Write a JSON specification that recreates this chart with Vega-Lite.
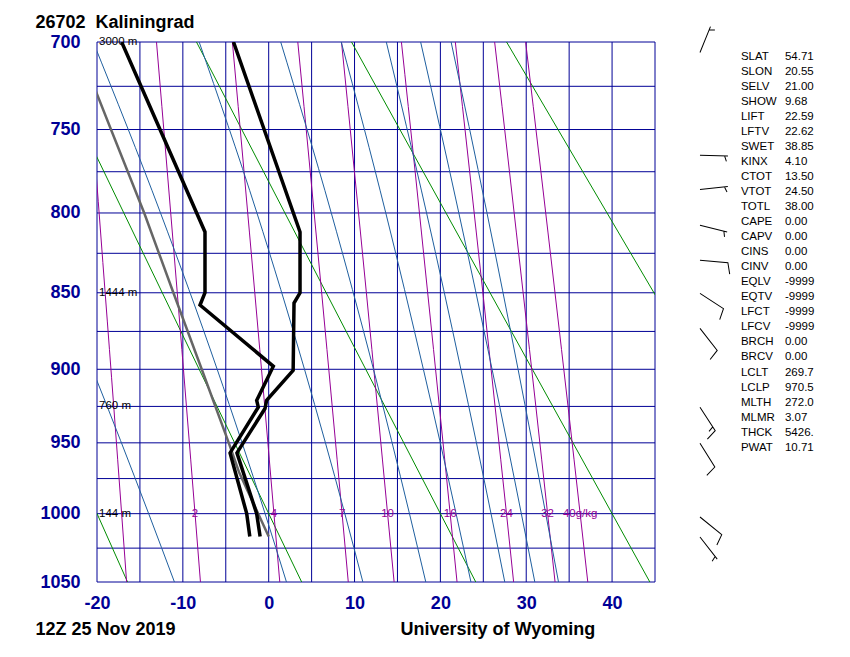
{
  "$schema": "https://vega.github.io/schema/vega-lite/v6.json",
  "width": 558,
  "height": 540,
  "autosize": {"type": "none"},
  "padding": {"left": 97, "top": 42, "right": 195, "bottom": 75},
  "background": "white",
  "config": {"view": {"stroke": null}},
  "datasets": {
    "vgrid": [
      {"t": -20}, {"t": -15}, {"t": -10}, {"t": -5}, {"t": 0}, {"t": 5}, {"t": 10},
      {"t": 15}, {"t": 20}, {"t": 25}, {"t": 30}, {"t": 35}, {"t": 40}, {"t": 45}
    ],
    "hgrid": [
      {"p": 700}, {"p": 725}, {"p": 750}, {"p": 775}, {"p": 800}, {"p": 825}, {"p": 850}, {"p": 875},
      {"p": 900}, {"p": 925}, {"p": 950}, {"p": 975}, {"p": 1000}, {"p": 1025}, {"p": 1050}
    ],
    "dry": [
      {"theta": -20, "p": 700, "t": -44.53}, {"theta": -20, "p": 1050, "t": -16.44},
      {"theta": 0, "p": 700, "t": -26.47}, {"theta": 0, "p": 1050, "t": 3.84},
      {"theta": 20, "p": 700, "t": -8.41}, {"theta": 20, "p": 1050, "t": 24.12},
      {"theta": 40, "p": 700, "t": 9.65}, {"theta": 40, "p": 1050, "t": 44.40},
      {"theta": 60, "p": 700, "t": 27.71}, {"theta": 60, "p": 1050, "t": 64.68}
    ],
    "mixr": [
      {"w": 1, "p": 700, "t": -21.30}, {"w": 1, "p": 775, "t": -20.12}, {"w": 1, "p": 850, "t": -19.05}, {"w": 1, "p": 925, "t": -18.05}, {"w": 1, "p": 1000, "t": -17.13}, {"w": 1, "p": 1050, "t": -16.55},
      {"w": 2, "p": 700, "t": -13.07}, {"w": 2, "p": 775, "t": -11.81}, {"w": 2, "p": 850, "t": -10.65}, {"w": 2, "p": 925, "t": -9.58}, {"w": 2, "p": 1000, "t": -8.58}, {"w": 2, "p": 1050, "t": -7.95},
      {"w": 4, "p": 700, "t": -4.23}, {"w": 4, "p": 775, "t": -2.87}, {"w": 4, "p": 850, "t": -1.62}, {"w": 4, "p": 925, "t": -0.46}, {"w": 4, "p": 1000, "t": 0.61}, {"w": 4, "p": 1050, "t": 1.29},
      {"w": 7, "p": 700, "t": 3.39}, {"w": 7, "p": 775, "t": 4.84}, {"w": 7, "p": 850, "t": 6.17}, {"w": 7, "p": 925, "t": 7.40}, {"w": 7, "p": 1000, "t": 8.55}, {"w": 7, "p": 1050, "t": 9.27},
      {"w": 10, "p": 700, "t": 8.48}, {"w": 10, "p": 775, "t": 9.99}, {"w": 10, "p": 850, "t": 11.38}, {"w": 10, "p": 925, "t": 12.66}, {"w": 10, "p": 1000, "t": 13.85}, {"w": 10, "p": 1050, "t": 14.61},
      {"w": 16, "p": 700, "t": 15.46}, {"w": 16, "p": 775, "t": 17.06}, {"w": 16, "p": 850, "t": 18.52}, {"w": 16, "p": 925, "t": 19.88}, {"w": 16, "p": 1000, "t": 21.14}, {"w": 16, "p": 1050, "t": 21.94},
      {"w": 24, "p": 700, "t": 21.74}, {"w": 24, "p": 775, "t": 23.41}, {"w": 24, "p": 850, "t": 24.95}, {"w": 24, "p": 925, "t": 26.37}, {"w": 24, "p": 1000, "t": 27.70}, {"w": 24, "p": 1050, "t": 28.53},
      {"w": 32, "p": 700, "t": 26.32}, {"w": 32, "p": 775, "t": 28.05}, {"w": 32, "p": 850, "t": 29.64}, {"w": 32, "p": 925, "t": 31.12}, {"w": 32, "p": 1000, "t": 32.49}, {"w": 32, "p": 1050, "t": 33.36},
      {"w": 40, "p": 700, "t": 29.93}, {"w": 40, "p": 775, "t": 31.71}, {"w": 40, "p": 850, "t": 33.35}, {"w": 40, "p": 925, "t": 34.87}, {"w": 40, "p": 1000, "t": 36.28}, {"w": 40, "p": 1050, "t": 37.17}
    ],
    "moist": [
      {"id": "A", "p": 850, "t": -24.2}, {"id": "A", "p": 900, "t": -20.54}, {"id": "A", "p": 1000, "t": -13.98}, {"id": "A", "p": 1050, "t": -10.98},
      {"id": "B", "p": 700, "t": -20.44}, {"id": "B", "p": 800, "t": -12.6}, {"id": "B", "p": 900, "t": -6.0}, {"id": "B", "p": 1000, "t": -0.42}, {"id": "B", "p": 1050, "t": 2.07},
      {"id": "C", "p": 700, "t": -8.1}, {"id": "C", "p": 800, "t": -1.37}, {"id": "C", "p": 900, "t": 4.17}, {"id": "C", "p": 1000, "t": 8.87}, {"id": "C", "p": 1050, "t": 10.97},
      {"id": "D", "p": 700, "t": 1.4}, {"id": "D", "p": 800, "t": 7.29}, {"id": "D", "p": 900, "t": 12.21}, {"id": "D", "p": 1000, "t": 16.4}, {"id": "D", "p": 1050, "t": 18.3},
      {"id": "E", "p": 700, "t": 8.45}, {"id": "E", "p": 800, "t": 13.64}, {"id": "E", "p": 900, "t": 18.02}, {"id": "E", "p": 1000, "t": 21.83}, {"id": "E", "p": 1050, "t": 23.56},
      {"id": "F", "p": 700, "t": 13.7}, {"id": "F", "p": 800, "t": 18.39}, {"id": "F", "p": 900, "t": 22.39}, {"id": "F", "p": 1000, "t": 25.9}, {"id": "F", "p": 1050, "t": 27.5},
      {"id": "G", "p": 700, "t": 17.7}, {"id": "G", "p": 800, "t": 22.15}, {"id": "G", "p": 900, "t": 26.02}, {"id": "G", "p": 1000, "t": 29.43}, {"id": "G", "p": 1050, "t": 31.0},
      {"id": "H", "p": 700, "t": 21.25}, {"id": "H", "p": 800, "t": 25.43}, {"id": "H", "p": 900, "t": 29.05}, {"id": "H", "p": 1000, "t": 32.27}, {"id": "H", "p": 1050, "t": 33.76}
    ],
    "temp": [
      {"p": 700, "t": -4.1}, {"p": 811.7, "t": 3.65}, {"p": 850, "t": 3.65}, {"p": 856.6, "t": 2.95}, {"p": 900.7, "t": 2.85},
      {"p": 920.9, "t": -0.24}, {"p": 926.4, "t": -0.43}, {"p": 957, "t": -3.7}, {"p": 1000, "t": -1.4}, {"p": 1016.5, "t": -1.0}
    ],
    "dwpt": [
      {"p": 700, "t": -17.13}, {"p": 811.7, "t": -7.42}, {"p": 850, "t": -7.42}, {"p": 857.9, "t": -8.0}, {"p": 898, "t": 0.54},
      {"p": 920.9, "t": -1.4}, {"p": 925.5, "t": -1.21}, {"p": 957, "t": -4.5}, {"p": 1000, "t": -2.56}, {"p": 1016.5, "t": -2.2}
    ],
    "parcel": [
      {"p": 1016.5, "t": 0.0}, {"p": 970.5, "t": -3.45}, {"p": 950, "t": -4.65}, {"p": 900, "t": -7.8},
      {"p": 850, "t": -11.1}, {"p": 800, "t": -14.5}, {"p": 750, "t": -18.37}, {"p": 700, "t": -22.4}
    ],
    "hgt": [
      {"p": 700, "lab": "3000 m"}, {"p": 850, "lab": "1444 m"}, {"p": 925, "lab": "760 m"}, {"p": 1000, "lab": "144 m"}
    ],
    "mrlab": [
      {"p": 1000, "t": -8.58, "lab": "2"}, {"p": 1000, "t": 0.61, "lab": "4"}, {"p": 1000, "t": 8.55, "lab": "7"},
      {"p": 1000, "t": 13.85, "lab": "10"}, {"p": 1000, "t": 21.14, "lab": "16"}, {"p": 1000, "t": 27.70, "lab": "24"},
      {"p": 1000, "t": 32.49, "lab": "32"}, {"p": 1000, "t": 36.28, "lab": "40g/kg"}
    ],
    "wind": [
      {"p": 705.9, "dir": 22, "spd": 5}, {"p": 765.1, "dir": 92, "spd": 5}, {"p": 785.7, "dir": 84, "spd": 5},
      {"p": 807.6, "dir": 104, "spd": 5}, {"p": 829.4, "dir": 95, "spd": 10}, {"p": 850.4, "dir": 123, "spd": 10},
      {"p": 873.0, "dir": 142, "spd": 10}, {"p": 925.5, "dir": 147, "spd": 15}, {"p": 950.3, "dir": 148, "spd": 10},
      {"p": 1002.4, "dir": 129, "spd": 10}, {"p": 1016.9, "dir": 142, "spd": 5}
    ],
    "info": [
      {"i": 0, "k": "SLAT", "v": "54.71"}, {"i": 1, "k": "SLON", "v": "20.55"}, {"i": 2, "k": "SELV", "v": "21.00"},
      {"i": 3, "k": "SHOW", "v": "9.68"}, {"i": 4, "k": "LIFT", "v": "22.59"}, {"i": 5, "k": "LFTV", "v": "22.62"},
      {"i": 6, "k": "SWET", "v": "38.85"}, {"i": 7, "k": "KINX", "v": "4.10"}, {"i": 8, "k": "CTOT", "v": "13.50"},
      {"i": 9, "k": "VTOT", "v": "24.50"}, {"i": 10, "k": "TOTL", "v": "38.00"}, {"i": 11, "k": "CAPE", "v": "0.00"},
      {"i": 12, "k": "CAPV", "v": "0.00"}, {"i": 13, "k": "CINS", "v": "0.00"}, {"i": 14, "k": "CINV", "v": "0.00"},
      {"i": 15, "k": "EQLV", "v": "-9999"}, {"i": 16, "k": "EQTV", "v": "-9999"}, {"i": 17, "k": "LFCT", "v": "-9999"},
      {"i": 18, "k": "LFCV", "v": "-9999"}, {"i": 19, "k": "BRCH", "v": "0.00"}, {"i": 20, "k": "BRCV", "v": "0.00"},
      {"i": 21, "k": "LCLT", "v": "269.7"}, {"i": 22, "k": "LCLP", "v": "970.5"}, {"i": 23, "k": "MLTH", "v": "272.0"},
      {"i": 24, "k": "MLMR", "v": "3.07"}, {"i": 25, "k": "THCK", "v": "5426."}, {"i": 26, "k": "PWAT", "v": "10.71"}
    ]
  },
  "layer": [
    {
      "layer": [
        {
          "data": {"name": "vgrid"},
          "mark": {"type": "rule", "stroke": "#000096", "strokeWidth": 1},
          "encoding": {
            "x": {
              "field": "t", "type": "quantitative",
              "scale": {"domain": [-20, 45], "nice": false, "zero": false},
              "axis": {
                "values": [-20, -10, 0, 10, 20, 30, 40],
                "labelExpr": "'' + datum.value",
                "grid": false, "domain": false, "ticks": false, "tickSize": 0,
                "labelFont": "Liberation Sans", "labelFontSize": 18, "labelFontWeight": "bold", "labelColor": "#000096",
                "labelPadding": 12, "labelFlush": false, "labelOverlap": false,
                "title": "University of Wyoming", "titleX": 303, "titleY": 52, "titleAlign": "left", "titleBaseline": "alphabetic",
                "titleFont": "Liberation Sans", "titleFontSize": 18, "titleFontWeight": "bold", "titleColor": "black"
              }
            }
          }
        },
        {
          "data": {"name": "hgrid"},
          "mark": {"type": "rule", "stroke": "#000096", "strokeWidth": 1},
          "encoding": {
            "y": {
              "field": "p", "type": "quantitative",
              "scale": {"type": "pow", "exponent": 0.286, "domain": [700, 1050], "reverse": true, "nice": false, "zero": false},
              "axis": {
                "values": [700, 750, 800, 850, 900, 950, 1000, 1050],
                "labelExpr": "'' + datum.value",
                "grid": false, "domain": false, "ticks": false, "tickSize": 0,
                "labelFont": "Liberation Sans", "labelFontSize": 18, "labelFontWeight": "bold", "labelColor": "#000096",
                "labelPadding": 17, "labelOverlap": false, "labelFlush": false,
                "title": "26702\u00a0 Kaliningrad", "titleAngle": 0, "titleX": -62, "titleY": -15, "titleAlign": "left", "titleBaseline": "alphabetic",
                "titleFont": "Liberation Sans", "titleFontSize": 18, "titleFontWeight": "bold", "titleColor": "black"
              }
            }
          }
        },
        {
          "data": {"name": "dry"},
          "mark": {"type": "line", "stroke": "#008c00", "strokeWidth": 1, "clip": true},
          "encoding": {
            "x": {"field": "t", "type": "quantitative", "scale": {"domain": [-20, 45], "nice": false, "zero": false}},
            "y": {"field": "p", "type": "quantitative", "scale": {"type": "pow", "exponent": 0.286, "domain": [700, 1050], "reverse": true, "nice": false, "zero": false}},
            "detail": {"field": "theta"},
            "order": {"field": "p", "type": "quantitative"}
          }
        },
        {
          "data": {"name": "mixr"},
          "mark": {"type": "line", "stroke": "#960096", "strokeWidth": 1, "clip": true, "interpolate": "monotone"},
          "encoding": {
            "x": {"field": "t", "type": "quantitative", "scale": {"domain": [-20, 45], "nice": false, "zero": false}},
            "y": {"field": "p", "type": "quantitative", "scale": {"type": "pow", "exponent": 0.286, "domain": [700, 1050], "reverse": true, "nice": false, "zero": false}},
            "detail": {"field": "w"},
            "order": {"field": "p", "type": "quantitative"}
          }
        },
        {
          "data": {"name": "moist"},
          "mark": {"type": "line", "stroke": "#1f5f9f", "strokeWidth": 1, "clip": true, "interpolate": "monotone"},
          "encoding": {
            "x": {"field": "t", "type": "quantitative", "scale": {"domain": [-20, 45], "nice": false, "zero": false}},
            "y": {"field": "p", "type": "quantitative", "scale": {"type": "pow", "exponent": 0.286, "domain": [700, 1050], "reverse": true, "nice": false, "zero": false}},
            "detail": {"field": "id"},
            "order": {"field": "p", "type": "quantitative"}
          }
        },
        {
          "data": {"name": "parcel"},
          "mark": {"type": "line", "stroke": "#666666", "strokeWidth": 2.5, "clip": true},
          "encoding": {
            "x": {"field": "t", "type": "quantitative", "scale": {"domain": [-20, 45], "nice": false, "zero": false}},
            "y": {"field": "p", "type": "quantitative", "scale": {"type": "pow", "exponent": 0.286, "domain": [700, 1050], "reverse": true, "nice": false, "zero": false}},
            "order": {"field": "p", "type": "quantitative"}
          }
        },
        {
          "data": {"name": "temp"},
          "mark": {"type": "line", "stroke": "black", "strokeWidth": 3.5, "clip": true},
          "encoding": {
            "x": {"field": "t", "type": "quantitative", "scale": {"domain": [-20, 45], "nice": false, "zero": false}},
            "y": {"field": "p", "type": "quantitative", "scale": {"type": "pow", "exponent": 0.286, "domain": [700, 1050], "reverse": true, "nice": false, "zero": false}},
            "order": {"field": "p", "type": "quantitative"}
          }
        },
        {
          "data": {"name": "dwpt"},
          "mark": {"type": "line", "stroke": "black", "strokeWidth": 3.5, "clip": true},
          "encoding": {
            "x": {"field": "t", "type": "quantitative", "scale": {"domain": [-20, 45], "nice": false, "zero": false}},
            "y": {"field": "p", "type": "quantitative", "scale": {"type": "pow", "exponent": 0.286, "domain": [700, 1050], "reverse": true, "nice": false, "zero": false}},
            "order": {"field": "p", "type": "quantitative"}
          }
        },
        {
          "data": {"name": "hgt"},
          "mark": {"type": "text", "align": "left", "baseline": "middle", "dx": 2, "font": "Liberation Sans", "fontSize": 11.5, "color": "black"},
          "encoding": {
            "x": {"datum": -20, "type": "quantitative"},
            "y": {"field": "p", "type": "quantitative", "scale": {"type": "pow", "exponent": 0.286, "domain": [700, 1050], "reverse": true, "nice": false, "zero": false}},
            "text": {"field": "lab"}
          }
        },
        {
          "data": {"name": "mrlab"},
          "mark": {"type": "text", "align": "center", "baseline": "middle", "font": "Liberation Sans", "fontSize": 11.5, "color": "#960096"},
          "encoding": {
            "x": {"field": "t", "type": "quantitative", "scale": {"domain": [-20, 45], "nice": false, "zero": false}},
            "y": {"field": "p", "type": "quantitative", "scale": {"type": "pow", "exponent": 0.286, "domain": [700, 1050], "reverse": true, "nice": false, "zero": false}},
            "text": {"field": "lab"}
          }
        },
        {
          "data": {"name": "wind"},
          "mark": {"type": "point", "filled": false, "stroke": "black", "strokeWidth": 1, "opacity": 1, "size": 3136},
          "encoding": {
            "x": {"datum": 50.24, "type": "quantitative"},
            "y": {"field": "p", "type": "quantitative", "scale": {"type": "pow", "exponent": 0.286, "domain": [700, 1050], "reverse": true, "nice": false, "zero": false}},
            "angle": {"field": "dir", "type": "quantitative", "scale": null},
            "shape": {
              "field": "spd", "type": "nominal", "legend": null,
              "scale": {"domain": [5, 10, 15], "range": ["M0,0L0,-1M0,-0.88L0.19,-0.95", "M0,0L0,-1L0.4,-1.1", "M0,0L0,-1L0.4,-1.1M0,-0.84L0.2,-0.9"]}
            }
          }
        }
      ]
    },
    {
      "data": {"name": "info"},
      "layer": [
        {
          "mark": {"type": "text", "align": "left", "baseline": "middle", "font": "Liberation Sans", "fontSize": 11.5, "color": "black"},
          "encoding": {
            "x": {"datum": 55.01, "type": "quantitative"},
            "y": {
              "field": "i", "type": "quantitative",
              "scale": {"domain": [-0.9635, 34.917], "reverse": true, "nice": false, "zero": false},
              "axis": {
                "orient": "right", "labels": false, "ticks": false, "domain": false, "grid": false,
                "title": "12Z 25 Nov 2019", "titleAngle": 0, "titleX": -620, "titleY": 592, "titleAlign": "left", "titleBaseline": "alphabetic",
                "titleFont": "Liberation Sans", "titleFontSize": 18, "titleFontWeight": "bold", "titleColor": "black"
              }
            },
            "text": {"field": "k"}
          }
        },
        {
          "mark": {"type": "text", "align": "left", "baseline": "middle", "font": "Liberation Sans", "fontSize": 11.5, "color": "black"},
          "encoding": {
            "x": {"datum": 60.14, "type": "quantitative"},
            "y": {"field": "i", "type": "quantitative", "scale": {"domain": [-0.9635, 34.917], "reverse": true, "nice": false, "zero": false}},
            "text": {"field": "v"}
          }
        }
      ]
    }
  ],
  "resolve": {"scale": {"y": "independent"}}
}
